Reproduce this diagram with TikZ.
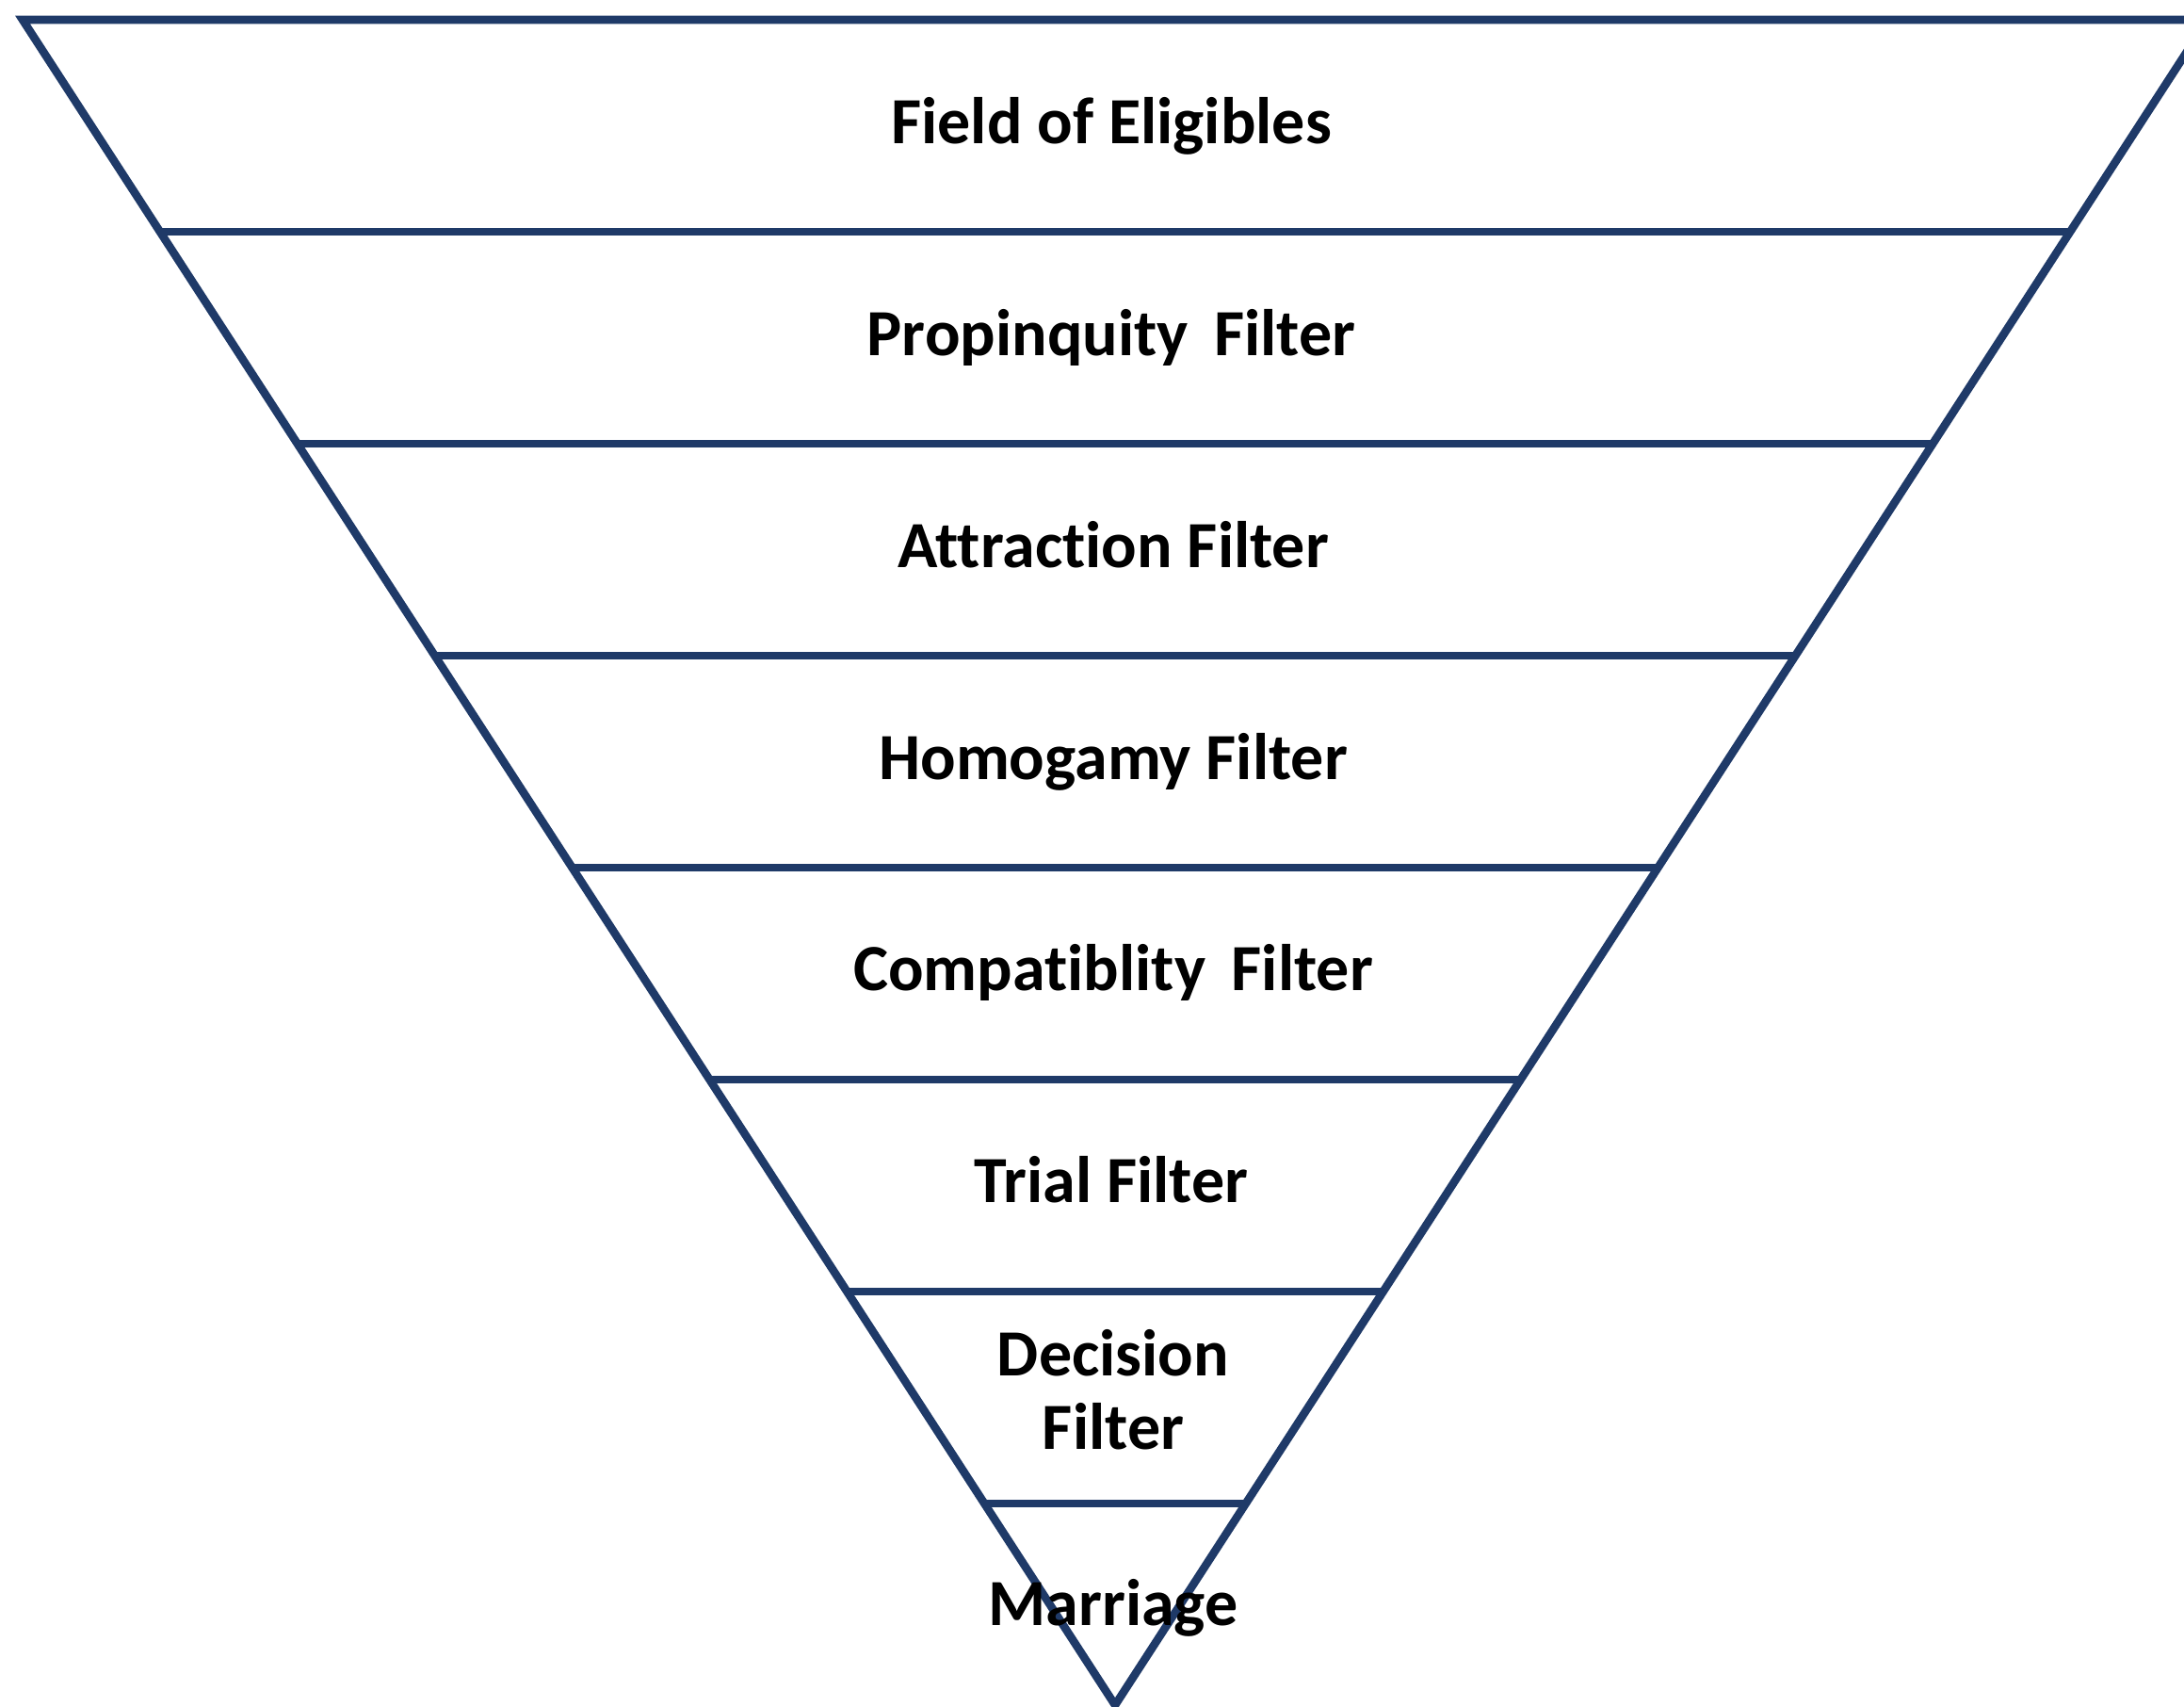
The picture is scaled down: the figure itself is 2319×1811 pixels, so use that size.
\documentclass[tikz,border=0pt]{standalone}
\usepackage{fontspec}
\setmainfont[Ligatures=CommonOff]{Carlito}
\usetikzlibrary{calc}
\definecolor{navy}{RGB}{31,58,104}
\begin{document}
\begin{tikzpicture}[x=0.5pt,y=-0.5pt,
  edge/.style={draw=navy,line width=4.3pt,line join=miter},
  lbl/.style={font=\bfseries\fontsize{35}{39}\selectfont,align=center,anchor=base,inner sep=0pt,text=black}]
\useasboundingbox (0,0) rectangle (2319,1811);
\clip (0,0) rectangle (2319,1811);
\fill[white] (0,0) rectangle (2319,1811);
\coordinate (TL) at (24,21);
\coordinate (TR) at (2344,21);
\coordinate (A) at (1184,1810);
\draw[edge] (TL) -- (TR) -- (A) -- cycle;
\foreach \k in {1,...,7}{
  \pgfmathsetmacro{\f}{225*\k/1789}
  \draw[edge] ($(TL)!\f!(A)$) -- ($(TR)!\f!(A)$);
}
\node[lbl] (n1) at (1180,152) {Field of Eligibles};
\node[lbl] (n2) at (1180,377) {Propinquity\, Filter};
\node[lbl] (n3) at (1182,602) {Attraction Filter};
\node[lbl] (n4) at (1182,827) {Homogamy Filter};
\node[lbl] (n5) at (1182,1051) {Compatiblity\, Filter};
\node[lbl] (n6) at (1180,1276) {Trial Filter};
\node[lbl] (n7) at (1182,1538) {Decision\\Filter};
\node[lbl] (n8) at (1182,1725) {Marriage};
\end{tikzpicture}
\end{document}
